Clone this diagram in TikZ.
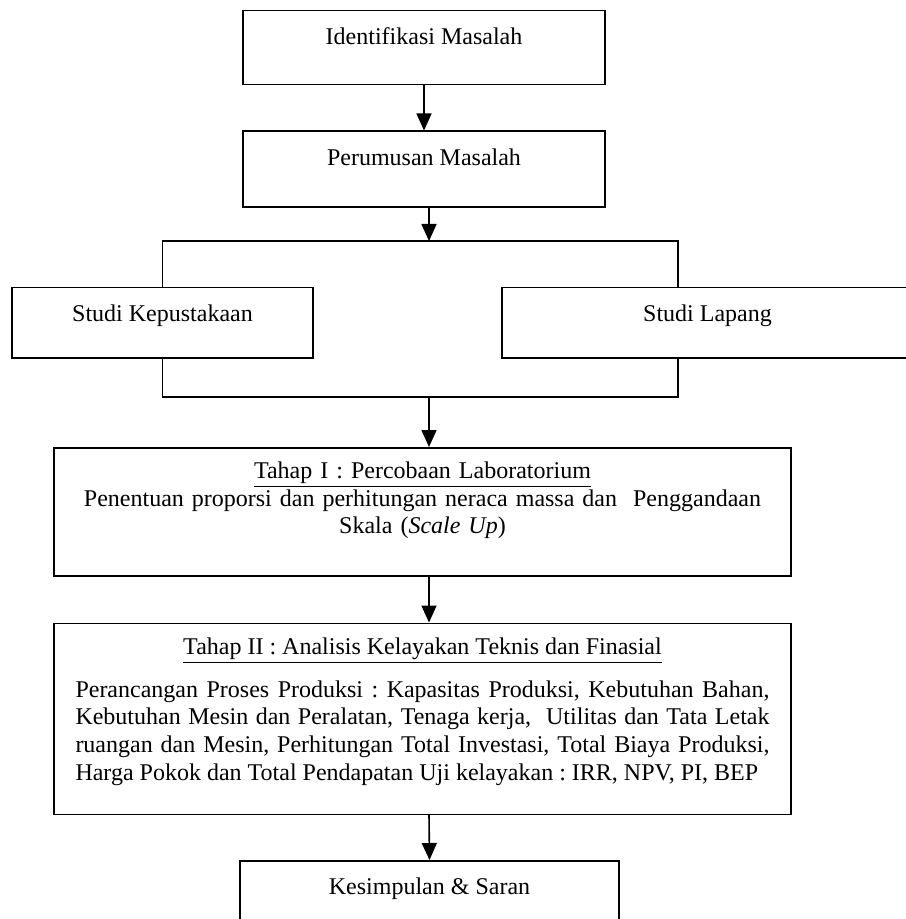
\documentclass[tikz,border=0pt]{standalone}
\usepackage{fontspec}
\setmainfont{Liberation Serif}
\usetikzlibrary{arrows.meta, positioning}
\frenchspacing

\begin{document}
\begin{tikzpicture}[
    box/.style={rectangle, draw=black, line width=0.75pt,
        inner xsep=2pt, inner ysep=3pt, text height=14pt,
        font=\fontsize{12}{13.8}\selectfont},
    stagebox/.style={box, text width=347pt, inner xsep=10.75pt,
        text height=12.5pt},
    arrow/.style={-{Triangle[length=8.5pt, width=7.5pt]}, line width=0.8pt},
    link/.style={line width=0.8pt},
]
\useasboundingbox (0,0) rectangle (452.5pt,-459.5pt);

% ---- top of the flow ----
\node (ident) [box, minimum width=181pt, text depth=17pt, anchor=north]
    at (212pt,-5pt) {Identifikasi Masalah};
\node (perum) [box, minimum width=181pt, text depth=18pt, below=22.5pt of ident]
    {Perumusan Masalah};

% ---- the two studies ----
\node (kepus)  [box, minimum width=150.5pt, text depth=15pt, anchor=north]
    at (81.25pt,-143.5pt) {Studi Kepustakaan};
\node (lapang) [box, minimum width=205.5pt, text depth=15pt, anchor=north]
    at (353.75pt,-143.5pt) {Studi Lapang};

% ---- the two stages ----
\node (tahap1) [stagebox, align=center, text depth=45.5pt, anchor=north]
    at (211.25pt,-223.5pt)
    {\underline{Tahap I : Percobaan Laboratorium}\\
     Penentuan proporsi dan perhitungan neraca massa dan~ Penggandaan\\
     Skala (\textit{Scale Up})};
\node (tahap2) [stagebox, align=justify, text depth=77pt, below=23pt of tahap1]
    {\centerline{\underline{Tahap II : Analisis Kelayakan Teknis dan Finasial}}\par
     \vspace{7.7pt}%
     \noindent Perancangan Proses Produksi : Kapasitas Produksi, Kebutuhan Bahan,\linebreak
     Kebutuhan Mesin dan Peralatan, Tenaga kerja,~ Utilitas dan Tata Letak\linebreak
     ruangan dan Mesin, Perhitungan Total Investasi, Total Biaya Produksi,\linebreak
     Harga Pokok dan Total Pendapatan Uji kelayakan : IRR, NPV, PI, BEP};

\node (kesimp) [box, minimum width=189.5pt, text depth=23pt,
    below=22.5pt of tahap2, xshift=3.5pt] {Kesimpulan \& Saran};

% ---- connectors ----
\coordinate (spine) at (214.5pt,0);
\coordinate (brTop) at (339pt,-120.5pt);
\coordinate (brBot) at (339pt,-198.5pt);

\draw[arrow] (ident) -- (perum);
\draw[arrow] (perum.south -| spine) -- (spine |- brTop);
\draw[link]  (kepus.north) |- (brTop) -- (brTop |- lapang.north);
\draw[link]  (kepus.south) |- (brBot) -- (brBot |- lapang.south);
\draw[arrow] (spine |- brBot) -- (tahap1.north -| spine);
\draw[arrow] (tahap1.south -| spine) -- (tahap2.north -| spine);
\draw[arrow] (tahap2.south -| spine) -- (kesimp.north);

\end{tikzpicture}
\end{document}
